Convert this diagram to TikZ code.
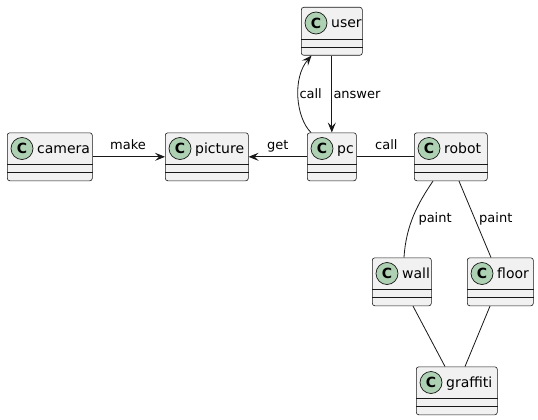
\documentclass[tikz,border=0pt]{standalone}
\usepackage{fontspec}
\setmainfont{DejaVu Sans}
\usetikzlibrary{arrows.meta}
\definecolor{boxfill}{HTML}{F1F1F1}
\definecolor{ink}{HTML}{181818}
\definecolor{circfill}{HTML}{ADD1B2}
\tikzset{
  classbox/.style={draw=ink, fill=boxfill, rounded corners=2.5pt, line width=0.6pt, inner sep=0pt, minimum height=48pt},
  divline/.style={draw=ink, line width=0.6pt},
  circ/.style={circle, draw=ink, fill=circfill, line width=0.7pt, minimum size=22pt, inner sep=0pt, font=\fontsize{14}{16}\selectfont\bfseries},
  cname/.style={inner sep=0pt, font=\fontsize{14}{16}\selectfont, text=black},
  elabel/.style={inner sep=0pt, font=\fontsize{13}{15}\selectfont, text=black, anchor=base west},
  edge/.style={draw=ink, line width=0.8pt},
  arr/.style={edge, -{Stealth[length=10pt, width=8pt, inset=4pt]}}
}
\newcommand\umlc[5]{%
  \node[classbox, minimum width=#4pt, anchor=north west] (#1) at (#2,#3) {};
  \draw[divline] ([yshift=-32pt]#1.north west) -- ([yshift=-32pt]#1.north east);
  \draw[divline] ([yshift=-40pt]#1.north west) -- ([yshift=-40pt]#1.north east);
  \node[circ] (#1c) at ([xshift=15pt,yshift=-16pt]#1.north west) {C};
  \node[cname, anchor=base west] (#1t) at ([xshift=30pt,yshift=-21pt]#1.north west) {#5};
}
\begin{document}
\begin{tikzpicture}[x=1pt,y=-1pt]
\useasboundingbox[fill=white] (0,0) rectangle (538,420);
\umlc{user}{301}{7}{61}{user}
\umlc{pc}{307}{132.5}{49}{pc}
\umlc{robot}{414}{132.5}{73}{robot}
\umlc{camera}{7}{132.5}{85}{camera}
\umlc{picture}{165}{132.5}{83}{picture}
\umlc{wall}{372}{257.5}{59}{wall}
\umlc{floor}{467}{257.5}{66}{floor}
\umlc{graffiti}{416}{366.5}{81}{graffiti}
% edges
\draw[arr] (camera.east) -- (picture.east -| picture.west);
\draw[arr] (pc.west) -- (picture.east);
\draw[edge] (pc.east) -- (robot.west);
\draw[arr] (user.south) -- (pc.north);
\draw[arr] ([xshift=4pt]pc.north west) .. controls (296,118) and (292,78) .. ([xshift=10.5pt]user.south west);
\draw[edge] ([xshift=19pt]robot.south west) .. controls (418,203) and (406,225) .. ([xshift=32pt]wall.north west);
\draw[edge] ([xshift=45pt]robot.south west) -- ([xshift=24pt]floor.north west);
\draw[edge] ([xshift=41pt]wall.south west) -- ([xshift=29pt]graffiti.north west);
\draw[edge] ([xshift=23pt]floor.south west) -- ([xshift=49pt]graffiti.north west);
% labels
\node[elabel] (lmake) at (110,149.3) {make};
\node[elabel] (lget) at (267,149.3) {get};
\node[elabel] (lcall) at (375,149.3) {call};
\node[elabel] (lcallu) at (299.3,98) {call};
\node[elabel] (lans) at (333.3,98) {answer};
\node[elabel] (lpw) at (418.3,222) {paint};
\node[elabel] (lpf) at (479,222) {paint};
\end{tikzpicture}
\end{document}
